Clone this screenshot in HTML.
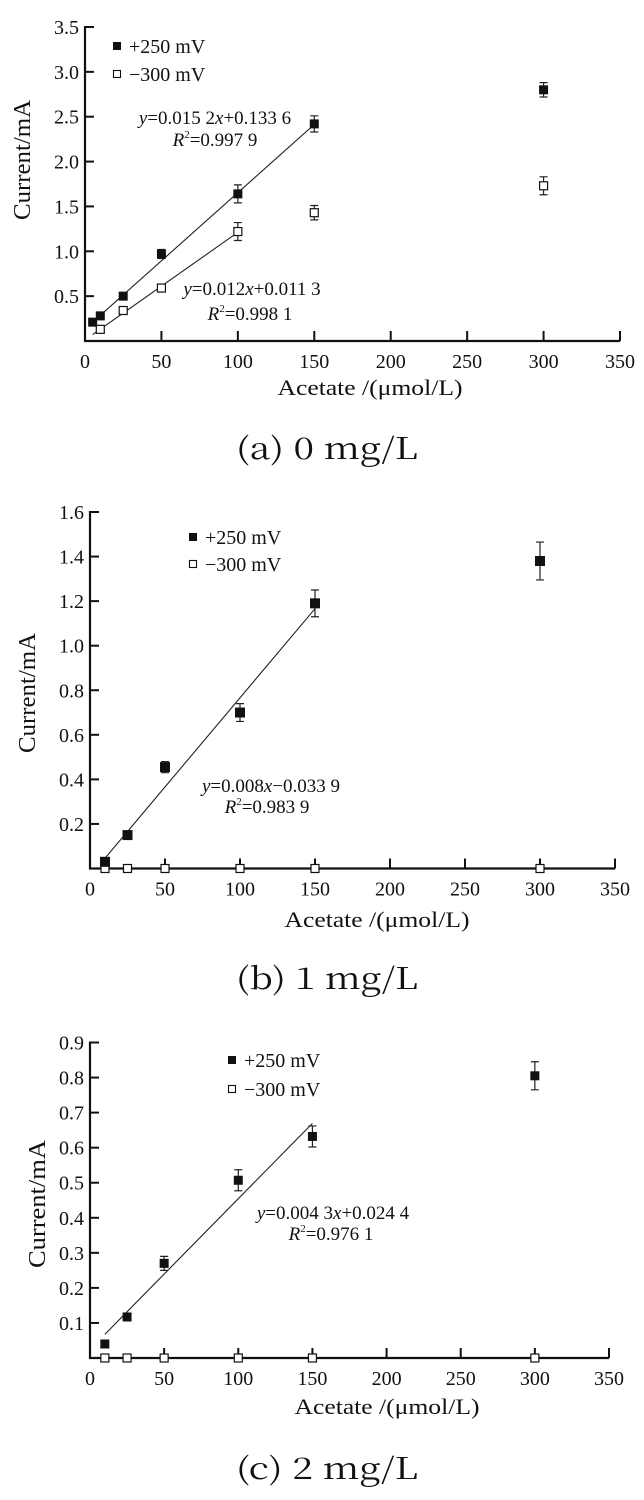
<!DOCTYPE html>
<html><head><meta charset="utf-8"><style>
html,body{margin:0;padding:0;background:#fff;}
svg{display:block;}
text{font-family:"Liberation Serif","Noto Serif CJK SC",serif;fill:#111;}
</style></head><body>
<svg id="fig" width="644" height="1500" viewBox="0 0 644 1500" xmlns="http://www.w3.org/2000/svg"></svg>
<script>
// ----- shared data -----
const xTicks = [0,50,100,150,200,250,300,350];
// Panel (a) 0 mg/L
const aX250 = [5,10,25,50,100,150,300];
const aY250 = [0.21,0.28,0.50,0.97,1.64,2.42,2.80];
const aE250 = [0.02,0.03,0.04,0.05,0.10,0.09,0.08];
const aX300 = [10,25,50,100,150,300];
const aY300 = [0.13,0.34,0.59,1.22,1.43,1.73];
const aE300 = [0.02,0.03,0.03,0.10,0.08,0.10];
const aYTicks = [0.5,1.0,1.5,2.0,2.5,3.0,3.5];
// Panel (b) 1 mg/L
const bX250 = [10,25,50,100,150,300];
const bY250 = [0.03,0.15,0.455,0.70,1.19,1.38];
const bE250 = [0.01,0.01,0.025,0.04,0.06,0.085];
const bX300 = [10,25,50,100,150,300];
const bY300 = [0,0,0,0,0,0];
const bYTicks = [0.2,0.4,0.6,0.8,1.0,1.2,1.4,1.6];
// Panel (c) 2 mg/L
const cX250 = [10,25,50,100,150,300];
const cY250 = [0.04,0.117,0.27,0.507,0.632,0.805];
const cE250 = [0.005,0.005,0.02,0.03,0.03,0.04];
const cX300 = [10,25,50,100,150,300];
const cY300 = [0,0,0,0,0,0];
const cYTicks = [0.1,0.2,0.3,0.4,0.5,0.6,0.7,0.8,0.9];

const NS = "http://www.w3.org/2000/svg";
const svg = document.getElementById('fig');
function mk(tag, attrs, parent){
  const e = document.createElementNS(NS, tag);
  for (const k in attrs) e.setAttribute(k, attrs[k]);
  (parent||svg).appendChild(e);
  return e;
}

function panel(cfg){
  const g = mk('g', {});
  
  
  const sx = v => cfg.x0 + (v/350)*(cfg.x1-cfg.x0);
  const sy = v => cfg.y0 - (v/cfg.ymax)*(cfg.y0-cfg.ytop);
  // axes
  const ax = mk('path', {d:`M${cfg.x0} ${cfg.ytop-1} L${cfg.x0} ${cfg.y0} L${cfg.x1} ${cfg.y0}`, fill:'none', stroke:'#111','stroke-width':2.2}, g);
  
  
  xTicks.forEach(t=>{
    mk('line',{x1:sx(t),x2:sx(t),y1:cfg.y0,y2:cfg.y0-10,stroke:'#111','stroke-width':2},g);
    const tl = mk('text',{x:sx(t),y:cfg.y0+27,'font-size':20,'text-anchor':'middle'},g);
    tl.textContent = t;
    
    
  });
  cfg.yTicks.forEach(t=>{
    mk('line',{x1:cfg.x0,x2:cfg.x0+9,y1:sy(t),y2:sy(t),stroke:'#111','stroke-width':2},g);
    const tl = mk('text',{x:cfg.x0-6,y:sy(t)+7,'font-size':20,'text-anchor':'end'},g);
    tl.textContent = t.toFixed(1);
    
    
  });
  // axis titles
  const xt = mk('text',{x:cfg.xtX,y:cfg.xtY,'font-size':22,'text-anchor':'middle',textLength:185,lengthAdjust:'spacingAndGlyphs'},g);
  xt.textContent = 'Acetate /(μmol/L)';
  
  
  const yt = mk('text',{x:0,y:0,'font-size':24,'text-anchor':'middle',textLength:cfg.ytLen,lengthAdjust:'spacingAndGlyphs',transform:`translate(${cfg.ytX},${cfg.ytY}) rotate(-90)`},g);
  yt.textContent = 'Current/mA';
  
  
  // fit lines
  cfg.fits.forEach(f=>{
    const l = mk('line',{x1:sx(f.from),y1:sy(f.m*f.from+f.b),x2:sx(f.to),y2:sy(f.m*f.to+f.b),stroke:'#222','stroke-width':1.1},g);
    
    
  });
  // series
  function series(xs, ys, es, filled, size, name){
    xs.forEach((x,i)=>{
      const cx = sx(x), cy = sy(ys[i]);
      if (es && es[i] > 0.012){
        const e = es[i];
        const eb = mk('path',{d:`M${cx} ${sy(ys[i]+e)} L${cx} ${sy(ys[i]-e)} M${cx-4} ${sy(ys[i]+e)} L${cx+4} ${sy(ys[i]+e)} M${cx-4} ${sy(ys[i]-e)} L${cx+4} ${sy(ys[i]-e)}`,stroke:'#222','stroke-width':1.2,fill:'none'},g);
        
        
      }
      const r = mk('rect',{x:cx-size/2,y:cy-size/2,width:size,height:size,fill:filled?'#111':'#fff',stroke:'#111','stroke-width':filled?0:1.2},g);
      
      
    });
  }
  series(cfg.x300, cfg.y300, cfg.e300, false, 8, 'point-minus300mv');
  series(cfg.x250, cfg.y250, cfg.e250, true, cfg.ms, 'point-plus250mv');
  // legend
  const lg = mk('g',{},g);
  
  
  mk('rect',{x:cfg.lgX-4,y:cfg.lgY1-4,width:8,height:8,fill:'#111'},lg);
  mk('rect',{x:cfg.lgX-3.5,y:cfg.lgY2-3.5,width:7,height:7,fill:'#fff',stroke:'#111','stroke-width':1.1},lg);
  const t1 = mk('text',{x:cfg.lgX+12,y:cfg.lgY1+7,'font-size':20},lg);
  t1.textContent = '+250 mV';
  
  
  const t2 = mk('text',{x:cfg.lgX+12,y:cfg.lgY2+7,'font-size':20},lg);
  t2.textContent = '\u2212300 mV';
  
  
  // equations
  cfg.eqs.forEach(q=>{
    const e1 = mk('text',{x:q.x,y:q.y1+7,'font-size':19,'text-anchor':'middle'},g);
    e1.innerHTML = q.eq;
    
    
    const e2 = mk('text',{x:q.x2,y:q.y2+7,'font-size':19,'text-anchor':'middle'},g);
    e2.innerHTML = '<tspan font-style="italic">R</tspan><tspan font-size="11" dy="-8">2</tspan><tspan dy="8">=' + q.r2 + '</tspan>';
    
    
  });
  // caption
  const cap = mk('text',{x:327,y:cfg.capY+11,'font-size':30,'text-anchor':'middle',textLength:182,lengthAdjust:'spacingAndGlyphs',style:'font-family:"Noto Serif CJK SC","Liberation Serif",serif'},g);
  cap.textContent = cfg.cap;
  
  
}

panel({id:'panel-a', x0:85, x1:620, y0:341, ytop:27, ymax:3.5, yTicks:aYTicks,
  x250:aX250,y250:aY250,e250:aE250,x300:aX300,y300:aY300,e300:aE300, ms:9,
  fits:[{from:5,to:150,m:0.0152,b:0.1336},{from:5,to:100,m:0.012,b:0.0113}],
  lgX:117,lgY1:46,lgY2:74,
  eqs:[{x:215,y1:117,x2:215,y2:139,eq:'<tspan font-style="italic">y</tspan>=0.015 2<tspan font-style="italic">x</tspan>+0.133 6',r2:'0.997 9'},
       {x:252,y1:288,x2:250,y2:313,eq:'<tspan font-style="italic">y</tspan>=0.012<tspan font-style="italic">x</tspan>+0.011 3',r2:'0.998 1'}],
  xtX:370,xtY:395,ytX:30,ytY:160,ytLen:120,capY:448,cap:'(a) 0 mg/L'});

panel({id:'panel-b', x0:90, x1:615, y0:868.5, ytop:512, ymax:1.6, yTicks:bYTicks,
  x250:bX250,y250:bY250,e250:bE250,x300:bX300,y300:bY300,e300:null, ms:10,
  fits:[{from:10,to:150,m:0.008,b:-0.0339}],
  lgX:193,lgY1:537,lgY2:564,
  eqs:[{x:271,y1:785,x2:267,y2:806,eq:'<tspan font-style="italic">y</tspan>=0.008<tspan font-style="italic">x</tspan>\u22120.033 9',r2:'0.983 9'}],
  xtX:377,xtY:927,ytX:35,ytY:693,ytLen:120,capY:978,cap:'(b) 1 mg/L'});

panel({id:'panel-c', x0:90, x1:609, y0:1358, ytop:1042.5, ymax:0.9, yTicks:cYTicks,
  x250:cX250,y250:cY250,e250:cE250,x300:cX300,y300:cY300,e300:null, ms:9,
  fits:[{from:10,to:150,m:0.0043,b:0.0244}],
  lgX:232,lgY1:1060,lgY2:1089,
  eqs:[{x:333,y1:1212,x2:331,y2:1233,eq:'<tspan font-style="italic">y</tspan>=0.004 3<tspan font-style="italic">x</tspan>+0.024 4',r2:'0.976 1'}],
  xtX:387,xtY:1414,ytX:45,ytY:1204,ytLen:128,capY:1468,cap:'(c) 2 mg/L'});
</script>
</body></html>
